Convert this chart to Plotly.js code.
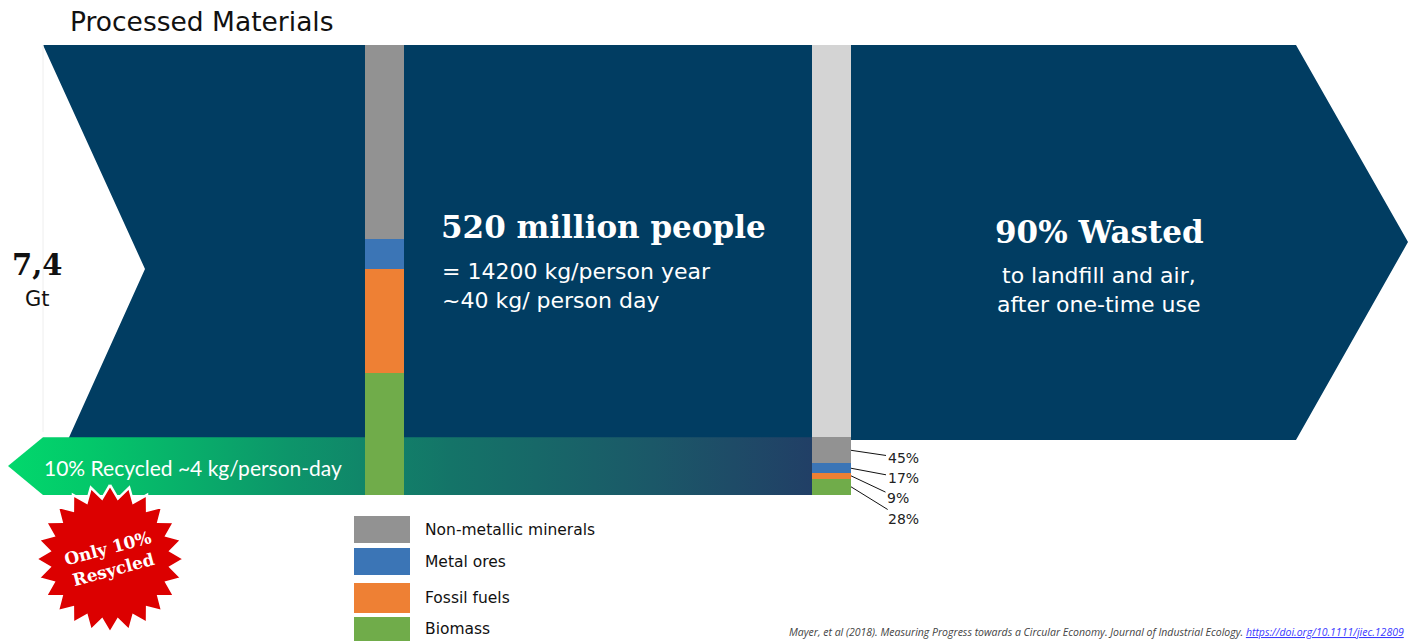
<!DOCTYPE html>
<html><head><meta charset="utf-8">
<script src="https://cdn.plot.ly/plotly-3.0.1.min.js"></script>
<style>html,body{margin:0;padding:0;background:#fff;overflow:hidden}</style>
</head><body><div id="chart" style="width:1417px;height:641px"></div>
<script>
// ---------------- DATA ----------------
const categories = ["Non-metallic minerals", "Metal ores", "Fossil fuels", "Biomass"];
const processedGt = [3.19, 0.49, 1.72, 2.00];        // processed materials, Gt (total 7,4)
const recycledGt = [0.43, 0.16, 0.09, 0.27];         // recycled part, Gt
const recycledShareLabels = ["45%", "17%", "9%", "28%"];
const wastedGt = 6.45;                                // wasted after one-time use, Gt
const barNames = ["Processed", "Recycled"];
const totalLabel = "7,4";
const unitLabel = "Gt";

// ---------------- STYLE / LAYOUT CONSTANTS ----------------
const W = 1417, H = 641;
const COLORS = ["#929292", "#3b75b6", "#ee8034", "#70ac4a"];
const WASTE_COLOR = "#d4d4d4";
const NAVY = "#013d62";
const BAR_X = [384.5, 831.5];   // pixel centres of the two bars
const BAR_W = 39;
const Y_BASE = 495, Y_TOP = 45; // pixel rows of 0 and total
const TOTAL = processedGt.reduce((a, b) => a + b, 0);
const K = (Y_BASE - Y_TOP) / TOTAL;   // px per Gt
const toPx = v => Y_BASE - v * K;
const FONT_SANS = "DejaVu Sans";
const FONT_SERIF = "DejaVu Serif";

const traces = [];

// big navy arrow (decoration, pixel axes)
traces.push({
  type: "scatter", mode: "lines", xaxis: "x", yaxis: "y",
  x: [43, 1296, 1408, 1296, 812, 812, 43, 145, 43],
  y: [45, 45, 242, 440, 440, 495, 495, 269, 45],
  fill: "toself", fillcolor: NAVY, line: {width: 0, color: NAVY},
  hoverinfo: "skip", showlegend: false
});
// faint guide line at the left edge
traces.push({
  type: "scatter", mode: "lines", xaxis: "x", yaxis: "y",
  x: [43, 43], y: [45, 432], line: {width: 1, color: "#eeeeee"},
  hoverinfo: "skip", showlegend: false
});
// recycled gradient band (height from data)
const recTotal = recycledGt.reduce((a, b) => a + b, 0);
const bandTop = toPx(recTotal);
traces.push({
  type: "scatter", mode: "lines", xaxis: "x", yaxis: "y",
  x: [8, 43, 812, 812, 43, 8],
  y: [(bandTop + Y_BASE) / 2, bandTop, bandTop, Y_BASE, Y_BASE, (bandTop + Y_BASE) / 2],
  fill: "toself",
  fillgradient: {type: "horizontal", colorscale: [
    [0, "#02d86c"], [0.1, "#03c86a"], [0.35, "#0d956a"], [0.55, "#147468"],
    [0.8, "#1b5868"], [1, "#213f66"]]},
  line: {width: 0},
  hoverinfo: "skip", showlegend: false
});
// red starburst badge
(function () {
  const cx = 110, cy = 559, R = 74, r = 61, n = 24, rot = -Math.PI / 2;
  const xs = [], ys = [];
  for (let i = 0; i <= 2 * n; i++) {
    const a = rot + i * Math.PI / n;
    const rr = i % 2 === 0 ? R : r;
    xs.push(cx + rr * Math.cos(a)); ys.push(cy + rr * Math.sin(a));
  }
  traces.push({
    type: "scatter", mode: "lines", xaxis: "x", yaxis: "y",
    x: xs, y: ys, fill: "toself", fillcolor: "#dc0000",
    line: {width: 2.5, color: "#ffffff"}, hoverinfo: "skip", showlegend: false
  });
})();

// stacked bars (Gt axis y2), bottom-up: Biomass, Fossil, Metal, Non-metallic, Wasted
for (let i = categories.length - 1; i >= 0; i--) {
  traces.push({
    type: "bar", xaxis: "x", yaxis: "y2", name: categories[i],
    x: BAR_X, y: [processedGt[i], recycledGt[i]], width: BAR_W,
    marker: {color: COLORS[i], line: {width: 0}},
    hoverinfo: "skip", showlegend: false
  });
}
traces.push({
  type: "bar", xaxis: "x", yaxis: "y2", name: "Wasted",
  x: BAR_X, y: [null, wastedGt], width: BAR_W,
  marker: {color: WASTE_COLOR, line: {width: 0}},
  hoverinfo: "skip", showlegend: false
});

// ---------------- ANNOTATIONS ----------------
const ann = [];
function txt(x, y, text, size, opts) {
  ann.push(Object.assign({
    xref: "x", yref: "y", x: x, y: y, text: text, showarrow: false,
    font: {family: FONT_SANS, size: size, color: "#111"},
    xanchor: "center", yanchor: "middle"
  }, opts || {}));
}
txt(37, 265, "<b>" + totalLabel + "</b>", 29, {font: {family: FONT_SERIF, size: 29, color: "#111"}});
txt(37, 299, unitLabel, 21);
txt(603, 227, "<b>520 million people</b>", 31, {font: {family: FONT_SERIF, size: 31, color: "#fff"}});
txt(440, 271, "= 14200 kg/person year", 22, {xanchor: "left", font: {family: FONT_SANS, size: 22, color: "#fff"}});
txt(440, 300, "~40 kg/ person day", 22, {xanchor: "left", font: {family: FONT_SANS, size: 22, color: "#fff"}});
txt(1099, 232, "<b>90% Wasted</b>", 31, {font: {family: FONT_SERIF, size: 31, color: "#fff"}});
txt(1099, 275, "to landfill and air,", 22, {font: {family: FONT_SANS, size: 22, color: "#fff"}});
txt(1099, 304, "after one-time use", 22, {font: {family: FONT_SANS, size: 22, color: "#fff"}});
txt(42, (bandTop + Y_BASE) / 2 + 1, "10% Recycled ~4 kg/person-day", 21, {xanchor: "left", font: {family: "Lato", size: 21, color: "#fff"}});
txt(110, 559, "<b>Only 10%<br>Resycled</b>", 17, {textangle: -15, font: {family: FONT_SERIF, size: 17, color: "#fff"}});

// percentage labels with leader lines (points from data)
const labelPos = [[903, 458], [903, 478], [898, 498], [903, 519]];
let cum = 0;
const mids = [];
for (let i = categories.length - 1; i >= 0; i--) { mids[i] = cum + recycledGt[i] / 2; cum += recycledGt[i]; }
for (let i = 0; i < categories.length; i++) {
  const px = BAR_X[1] + BAR_W / 2;
  ann.push({
    xref: "x", yref: "y2", x: px, y: mids[i], text: recycledShareLabels[i],
    showarrow: true, arrowhead: 0, arrowwidth: 1, arrowcolor: "#111",
    ax: labelPos[i][0] - px, ay: labelPos[i][1] - toPx(mids[i]),
    font: {family: FONT_SANS, size: 14, color: "#222"}
  });
}

// legend (swatches as shapes, names from categories)
const shapes = [];
const legRows = [[516, 543], [548, 575], [583, 613], [617, 641]];
categories.forEach((c, i) => {
  shapes.push({type: "rect", xref: "x", yref: "y", x0: 354, x1: 410, y0: legRows[i][0], y1: legRows[i][1],
    fillcolor: COLORS[i], line: {width: 0}});
  txt(423, (legRows[i][0] + legRows[i][1]) / 2, c, 15.5, {xanchor: "left"});
});

// source note
txt(787, 641, "<i>Mayer, et al (2018). Measuring Progress towards a Circular Economy. Journal of Industrial Ecology. <span style='color:#3a3aff'><u>https://doi.org/10.1111/jiec.12809</u></span></i>", 10.5,
  {xanchor: "left", yanchor: "bottom", font: {family: "Open Sans", size: 10.5, color: "#444"}});

const layout = {
  width: W, height: H,
  margin: {l: 0, r: 0, t: 0, b: 0, pad: 0},
  paper_bgcolor: "#fff", plot_bgcolor: "rgba(0,0,0,0)",
  barmode: "stack", bargap: 0,
  showlegend: false,
  title: {text: "Processed Materials", font: {family: FONT_SANS, size: 26.5, color: "#111"},
    x: 70 / W, xanchor: "left", xref: "container", y: 1 - 22 / H, yanchor: "middle", yref: "container"},
  xaxis: {range: [0, W], visible: false, fixedrange: true, showgrid: false, zeroline: false},
  yaxis: {range: [H, 0], visible: false, fixedrange: true, showgrid: false, zeroline: false},
  yaxis2: {range: [-(H - Y_BASE) / K, Y_BASE / K], overlaying: "y", visible: false,
    fixedrange: true, showgrid: false, zeroline: false},
  shapes: shapes,
  annotations: ann
};
Plotly.newPlot("chart", traces, layout, {staticPlot: true, displayModeBar: false});
</script>
</body></html>
